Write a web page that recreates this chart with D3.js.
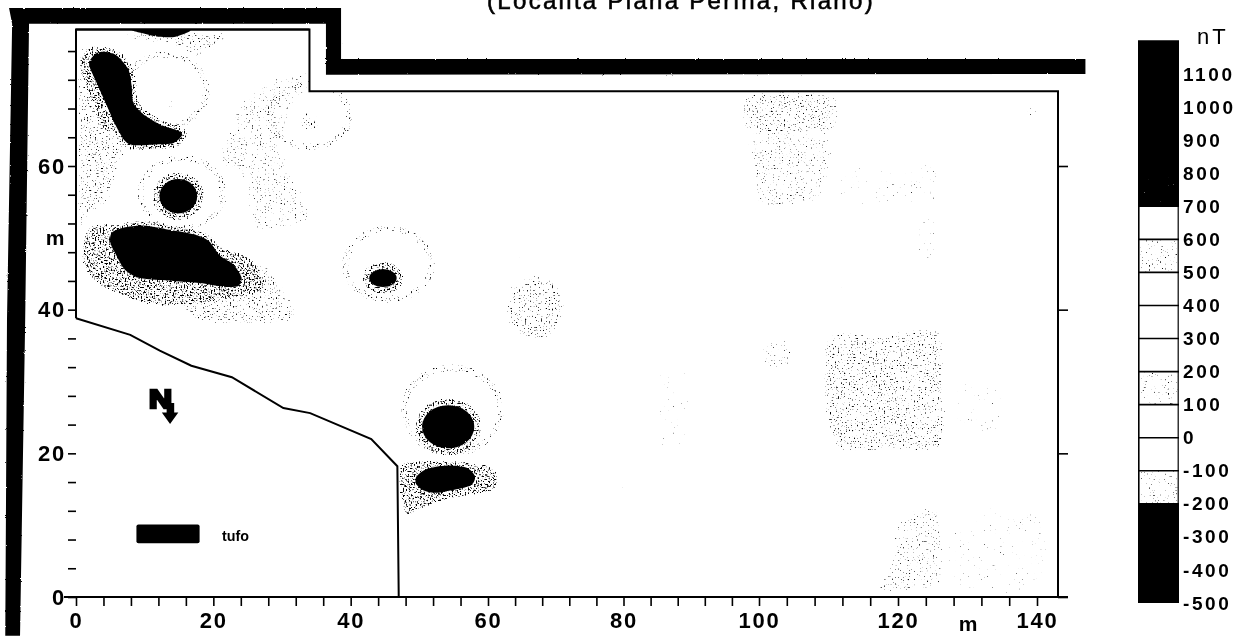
<!DOCTYPE html>
<html>
<head>
<meta charset="utf-8">
<script src="https://cdn.jsdelivr.net/npm/d3@7"></script>
<style>
  html, body { margin: 0; background: #fff; overflow: hidden; }
  svg { display: block; filter: blur(0.3px); }
  text { font-family: "Liberation Sans", Arial, sans-serif; fill: #000; }
  .axis path, .axis line { stroke: #000; }
  .axis path { stroke-width: 2; }
  .axis line { stroke-width: 1.6; }
  .axis text { font-size: 22px; font-weight: bold; letter-spacing: 1.8px; }
  .legend text { font-size: 19px; font-weight: bold; letter-spacing: 2.6px; }
</style>
</head>
<body>
<svg id="chart" width="1240" height="636"></svg>
<script>
// ---- data (metres / nT) ----
const titleText = '(Località Piana Perina, Riano)';
const xTicks = [0, 4, 8, 12, 16, 20, 24, 28, 32, 36, 40, 44, 48, 52, 56, 60, 64, 68, 72, 76, 80, 84, 88, 92, 96, 100, 104, 108, 112, 116, 120, 124, 128, 132, 136, 140];
const yTicks = [0, 4, 8, 12, 16, 20, 24, 28, 32, 36, 40, 44, 48, 52, 56, 60, 64, 68, 72, 76];
const sideTicks = [0, 20, 40, 60];
const legendTicks = [1100, 1000, 900, 800, 700, 600, 500, 400, 300, 200, 100, 0, -100, -200, -300, -400, -500];
const legendBands = [[-500, -200, 'black'], [-200, -100, 'dots'], [-100, 0, 'white'], [0, 100, 'white'],
  [100, 200, 'dots'], [200, 300, 'white'], [300, 400, 'white'], [400, 500, 'white'], [500, 600, 'dots'],
  [600, 700, 'white'], [700, 1200, 'black']];
const speckledBand = [700, 800];

const surveyArea = [[0, 79], [34, 79], [34, 70.4], [143, 70.4], [143, 0], [47, 0], [46.8, 18.2], [43, 22], [34.1, 25.6], [30.2, 26.3], [22.7, 30.6], [16.8, 32.2], [12.2, 34.3], [7.9, 36.5], [0, 38.8]];
const tuffBoundary = [[0, 38.8], [7.9, 36.5], [12.2, 34.3], [16.8, 32.2], [22.7, 30.6], [30.2, 26.3], [34.1, 25.6], [43, 22], [46.8, 18.2], [47, 0]];
const siteWall = [[-9.75, 82], [38.6, 82], [38.6, 74.9], [147, 74.9], [147, 72.8], [36.4, 72.7], [36.4, 79.8], [-6.84, 79.8], [-7.4, 38.6], [-8.15, -5.4], [-10.3, -5.4], [-10.05, 38.6], [-9.3, 79.8]];

// black anomalies (above 700 nT or below -200 nT)
const blobA = [[4, 75.9], [5.9, 75.4], [7.6, 73.5], [8.1, 71.2], [8.35, 68.8], [9.8, 67.2], [12.2, 65.8], [15.1, 64.8], [15.4, 64.2], [14.2, 63.2], [11.7, 63], [8.35, 62.9], [7.1, 63.5], [5.7, 65.8], [4.5, 68.4], [3, 71.6], [1.9, 74.2], [2.8, 75.6]];
const blobC = [[5.2, 50.7], [6.9, 51.4], [9.8, 51.7], [13.1, 51.2], [17.1, 50.5], [19.3, 49.6], [21, 47.5], [22.9, 46.3], [24.1, 44.5], [23.6, 43.3], [21.4, 43.2], [18, 43.7], [14.2, 44], [9.3, 44.4], [7.1, 45.6], [5.9, 47.5], [5, 49.3]];
const blobF = [[49.6, 16.8], [51, 17.8], [54, 18.3], [56.9, 18], [58.1, 16.8], [57.6, 15.6], [55.4, 15], [52.4, 14.5], [50.5, 14.9], [49.5, 15.8]];
const blobTop = [[8.3, 79], [10, 78.4], [12, 78], [14.5, 78], [16.5, 79]];
const spots = [[14.9, 55.8, 2.75, 2.4], [44.7, 44.4, 2, 1.25], [54.2, 23.7, 3.8, 3]];

// stippled bands, [cx, cy, rx, ry] rings and patches
const denseZones = [
  [[1.2, 50.5], [5, 52], [24, 48], [27.5, 43], [20, 41], [11, 40.5], [4, 43], [1, 46]],
  [[0.5, 75], [3, 76.5], [5.5, 66], [4, 65], [1, 72]],
  [[47.6, 18.7], [60.3, 18.4], [60.9, 14.9], [54.4, 13.5], [50.1, 12.1], [47.9, 11.3]]
];
const mediumZones = [
  [[18, 44], [27, 47], [32, 41], [31, 37.8], [18, 37.8], [15, 41]],
  [[0, 75.6], [2.3, 75.6], [5.7, 65.1], [7.9, 63], [6.4, 58.9], [5.7, 55.4], [2.8, 53.3], [0, 51.2]],
  [[5, 78.9], [22.4, 78.9], [20, 75.5], [17, 74.6], [14, 76.5], [9, 77]],
  [[109.3, 36.5], [113, 37.4], [118, 37], [122, 37.6], [126.5, 37], [127.2, 28], [126.5, 20.4], [118, 20], [111.5, 20], [109.3, 24], [108.8, 30]],
  [[98, 70.3], [110.8, 70.3], [110.5, 64.2], [98.4, 64.2]]
];
const lightZones = [
  [[98.4, 64.2], [110.5, 64.2], [110.2, 58], [108, 54.5], [100, 54], [98.4, 60]],
  [[22, 65.6], [23.9, 69.7], [27.8, 72.1], [33.8, 73.9], [33.8, 70.3], [30.4, 63], [34.5, 52.6], [25.8, 50.8], [23.9, 58.2], [20, 60.3]],
  [[121, 12.1], [126.2, 12.6], [126.9, 6.1], [126.2, 1], [116.6, 0.3], [118.9, 6.1], [118.9, 8.9]],
  [[100.3, 35.8], [105.1, 35.8], [105, 31.7], [100.3, 31.7]],
  [[43, 39.6], [47.2, 39.6], [47.2, 38.4], [43, 38.4]]
];
const sparseZones = [
  [[110, 61], [118, 60], [125.8, 60.5], [125.8, 54.5], [112, 54.5]],
  [[137.8, 69.3], [140.8, 69.3], [140.8, 65.5], [137.8, 65.5]],
  [[84.6, 31.7], [89.8, 31.7], [89.8, 20.9], [84.6, 20.9]],
  [[128, 30], [135, 30], [135, 22], [128, 22]],
  [[128, 12], [141, 12], [141, 1], [128, 1]],
  [[122, 53], [126, 53], [126, 47], [122, 47]]
];
const patches = [[67, 40.3, 4.9, 5], [34, 66.2, 1.9, 2], [13.7, 68.6, 1.1, 1.1]];
const rings = [[15.4, 56.2, 6, 4.9], [45.5, 46.3, 6.3, 4.9], [54.8, 26, 7.1, 5.9], [34, 67, 5.8, 4.3], [13, 70.5, 6, 5]];

// key and north mark, in plot metres
const tufoKey = [8.8, 7.5, 18, 10.1];
const northArrow = [[13.2, 27], [14.3, 27], [14.3, 25.7], [14.9, 25.7], [13.7, 24.1], [12.5, 25.7], [13.2, 25.7]];

// ---- scales and setup ----
const svg = d3.select('#chart');
const x = d3.scaleLinear().domain([-12, 0, 60, 100, 140, 143, 150]).range([-6.4, 76, 488, 759, 1037, 1058, 1106]);
const y = d3.scaleLinear().domain([0, 60]).range([597, 166]);
const legendY = d3.scaleLinear().domain([-500, 1200]).range([603, 41]);

const pathOf = d3.line().x(d => x(d[0])).y(d => y(d[1]));
const smoothOf = d3.line().x(d => x(d[0])).y(d => y(d[1])).curve(d3.curveCardinalClosed.tension(0.2));

// stipple filter: turbulence thresholded, fading with the blurred shape edge
const defs = svg.append('defs');
function stipple(id, seed, cut, soft, colour) {
  const f = defs.append('filter').attr('id', id)
    .attr('filterUnits', 'userSpaceOnUse').attr('x', 0).attr('y', 0).attr('width', 1240).attr('height', 636)
    .attr('color-interpolation-filters', 'sRGB');
  f.append('feTurbulence').attr('type', 'fractalNoise').attr('baseFrequency', 0.63).attr('numOctaves', 1).attr('seed', seed).attr('result', 'n');
  f.append('feColorMatrix').attr('in', 'n').attr('type', 'matrix').attr('values', '0 0 0 0 0  0 0 0 0 0  0 0 0 0 0  1 0 0 0 0').attr('result', 'na');
  f.append('feGaussianBlur').attr('in', 'SourceAlpha').attr('stdDeviation', soft).attr('result', 'b');
  f.append('feComposite').attr('in', 'na').attr('in2', 'b').attr('operator', 'arithmetic').attr('k1', 1).attr('k2', 0).attr('k3', 0).attr('k4', 0).attr('result', 'm');
  const t = f.append('feComponentTransfer').attr('in', 'm').attr('result', 't');
  t.append('feFuncA').attr('type', 'linear').attr('slope', 8).attr('intercept', -8 * cut);
  f.append('feFlood').attr('flood-color', colour).attr('result', 'c');
  f.append('feComposite').attr('in', 'c').attr('in2', 't').attr('operator', 'in');
}
stipple('stDense', 3, 0.53, 1.2, '#000');
stipple('stMedium', 11, 0.63, 3, '#000');
stipple('stLight', 23, 0.66, 3, '#111');
stipple('stSparse', 17, 0.72, 3, '#222');
stipple('stRing', 29, 0.625, 0.9, '#000');
stipple('stBand', 31, 0.66, 0.4, '#111');
stipple('stFaint', 37, 0.84, 0.5, '#333');
stipple('stWhite', 41, 0.74, 0.4, '#fff');

const rough = defs.append('filter').attr('id', 'rough').attr('filterUnits', 'userSpaceOnUse')
  .attr('x', 0).attr('y', 0).attr('width', 1240).attr('height', 636);
rough.append('feTurbulence').attr('type', 'fractalNoise').attr('baseFrequency', 0.4).attr('numOctaves', 2).attr('seed', 5).attr('result', 'n');
rough.append('feDisplacementMap').attr('in', 'SourceGraphic').attr('in2', 'n').attr('scale', 2);

defs.append('clipPath').attr('id', 'survey').append('path').attr('d', pathOf(surveyArea) + 'Z');

// ---- title ----
svg.append('text').attr('x', 681).attr('y', 9).attr('text-anchor', 'middle')
  .style('font-size', '24px').style('letter-spacing', '2.3px').style('stroke', '#000').style('stroke-width', 0.6).text(titleText);

// ---- stipple layers ----
const plot = svg.append('g').attr('clip-path', 'url(#survey)');
function zoneLayer(filterId, zones, ellipses, ringList, ringWidth) {
  const g = plot.append('g').attr('filter', `url(#${filterId})`);
  g.selectAll('path').data(zones).join('path').attr('d', d => smoothOf(d)).attr('fill', '#000');
  g.selectAll('ellipse.p').data(ellipses).join('ellipse').attr('class', 'p')
    .attr('cx', d => x(d[0])).attr('cy', d => y(d[1]))
    .attr('rx', d => x(d[0] + d[2]) - x(d[0])).attr('ry', d => y(d[1] - d[3]) - y(d[1])).attr('fill', '#000');
  g.selectAll('ellipse.r').data(ringList).join('ellipse').attr('class', 'r')
    .attr('cx', d => x(d[0])).attr('cy', d => y(d[1]))
    .attr('rx', d => x(d[0] + d[2]) - x(d[0])).attr('ry', d => y(d[1] - d[3]) - y(d[1]))
    .attr('fill', 'none').attr('stroke', '#000').attr('stroke-width', ringWidth);
  return g;
}
// scattered specks over the whole survey
plot.append('rect').attr('filter', 'url(#stFaint)').attr('x', x(0)).attr('y', y(79)).attr('width', x(143) - x(0)).attr('height', y(0) - y(79)).attr('fill', '#000');
zoneLayer('stSparse', sparseZones, [], [], 0);
zoneLayer('stLight', lightZones, [], [], 0);
zoneLayer('stRing', [], [], rings, 10);
zoneLayer('stMedium', mediumZones, patches, [], 0);

// halos hugging the black anomalies
const halo = zoneLayer('stDense', denseZones, [], [], 0);
halo.selectAll('path.h').data([blobA, blobC, blobF]).join('path').attr('class', 'h')
  .attr('d', d => smoothOf(d)).attr('fill', 'none').attr('stroke', '#000').attr('stroke-width', 12);
halo.selectAll('ellipse.h').data(spots).join('ellipse').attr('class', 'h')
  .attr('cx', d => x(d[0])).attr('cy', d => y(d[1]))
  .attr('rx', d => x(d[0] + d[2]) - x(d[0])).attr('ry', d => y(d[1] - d[3]) - y(d[1]))
  .attr('fill', 'none').attr('stroke', '#000').attr('stroke-width', 16);

// ---- black anomalies ----
const solid = plot.append('g').attr('filter', 'url(#rough)');
solid.selectAll('path').data([blobA, blobC, blobF, blobTop]).join('path').attr('d', d => smoothOf(d)).attr('fill', '#000');
solid.selectAll('ellipse').data(spots).join('ellipse')
  .attr('cx', d => x(d[0])).attr('cy', d => y(d[1]))
  .attr('rx', d => x(d[0] + d[2]) - x(d[0])).attr('ry', d => y(d[1] - d[3]) - y(d[1])).attr('fill', '#000');

// ---- outer wall and plot outline ----
svg.append('path').attr('d', pathOf(siteWall) + 'Z').attr('fill', '#000').attr('filter', 'url(#rough)');
svg.append('path').attr('d', pathOf(surveyArea.slice(0, 6))).attr('fill', 'none').attr('stroke', '#000').attr('stroke-width', 2);
svg.append('path').attr('d', pathOf([[0, 38.8], [0, 79], [34, 79]])).attr('fill', 'none').attr('stroke', '#000').attr('stroke-width', 2);
svg.append('path').attr('d', pathOf(tuffBoundary)).attr('fill', 'none').attr('stroke', '#000').attr('stroke-width', 2);

// ---- axes ----
const xAxis = d3.axisBottom(x).tickValues(xTicks).tickSize(9).tickPadding(6)
  .tickFormat(d => (d % 20 === 0 ? d : ''));
const gx = svg.append('g').attr('class', 'axis').attr('transform', `translate(0,${y(0)})`).call(xAxis);
gx.select('.domain').attr('d', `M64,0H1068`);

const yAxis = d3.axisLeft(y).tickValues(yTicks).tickSize(8).tickPadding(2)
  .tickFormat(d => (d % 20 === 0 ? d : ''));
const gy = svg.append('g').attr('class', 'axis').attr('transform', `translate(${x(0)},0)`).call(yAxis);
gy.select('.domain').remove();

const gr = svg.append('g').attr('class', 'axis').attr('transform', `translate(${x(143)},0)`)
  .call(d3.axisRight(y).tickValues(sideTicks).tickSize(10).tickFormat(''));
gr.select('.domain').remove();

svg.append('text').attr('x', 55).attr('y', 245).attr('text-anchor', 'middle').style('font-size', '21px').style('font-weight', 'bold').text('m');
svg.append('text').attr('x', 968).attr('y', 631).attr('text-anchor', 'middle').style('font-size', '21px').style('font-weight', 'bold').text('m');

// ---- key and north mark ----
svg.append('rect').attr('x', x(tufoKey[0])).attr('y', y(tufoKey[3])).attr('width', x(tufoKey[2]) - x(tufoKey[0])).attr('height', y(tufoKey[1]) - y(tufoKey[3])).attr('rx', 2).attr('fill', '#000');
svg.append('text').attr('x', 222).attr('y', 541).attr('textLength', 27).attr('lengthAdjust', 'spacingAndGlyphs')
  .style('font-size', '15px').style('font-weight', 'bold').text('tufo');
svg.append('text').attr('x', 149).attr('y', 408).attr('textLength', 23).attr('lengthAdjust', 'spacingAndGlyphs')
  .style('font-size', '25px').style('font-weight', 'bold').style('stroke', '#000').style('stroke-width', 2.5).text('N');
svg.append('path').attr('d', pathOf(northArrow) + 'Z').attr('fill', '#000');

// ---- colour scale ----
const legend = svg.append('g').attr('class', 'legend');
const barLeft = 1138, barWidth = 41;
legend.selectAll('rect.band').data(legendBands).join('rect').attr('class', 'band')
  .attr('x', barLeft).attr('width', barWidth)
  .attr('y', d => legendY(d[1])).attr('height', d => legendY(d[0]) - legendY(d[1]))
  .attr('fill', d => (d[2] === 'black' ? '#000' : '#fff'));
const dotBands = legend.append('g').attr('filter', 'url(#stBand)');
dotBands.selectAll('rect').data(legendBands.filter(d => d[2] === 'dots')).join('rect')
  .attr('x', barLeft + 2).attr('width', barWidth - 3)
  .attr('y', d => legendY(d[1])).attr('height', d => legendY(d[0]) - legendY(d[1])).attr('fill', '#000');
legend.append('rect').attr('filter', 'url(#stWhite)').attr('x', barLeft + 2).attr('width', barWidth - 3)
  .attr('y', legendY(speckledBand[1])).attr('height', legendY(speckledBand[0]) - legendY(speckledBand[1])).attr('fill', '#000');
legend.selectAll('line.sep').data(legendBands).join('line').attr('class', 'sep')
  .attr('x1', barLeft).attr('x2', barLeft + barWidth)
  .attr('y1', d => legendY(d[1])).attr('y2', d => legendY(d[1]))
  .attr('stroke', '#000').attr('stroke-width', 1.6);
legend.append('line').attr('x1', barLeft + 0.8).attr('x2', barLeft + 0.8).attr('y1', legendY(700)).attr('y2', legendY(-200)).attr('stroke', '#000').attr('stroke-width', 1.6);
legend.append('line').attr('x1', barLeft + barWidth - 0.8).attr('x2', barLeft + barWidth - 0.8).attr('y1', legendY(700)).attr('y2', legendY(-200)).attr('stroke', '#000').attr('stroke-width', 1.2);

const lg = legend.append('g').attr('transform', 'translate(1183,0)')
  .call(d3.axisRight(legendY).tickValues(legendTicks).tickSize(0).tickPadding(0).tickFormat(d => d));
lg.select('.domain').remove();
svg.append('text').attr('x', 1197).attr('y', 44).style('font-size', '22px').style('letter-spacing', '3px').text('nT');
</script>
</body>
</html>
